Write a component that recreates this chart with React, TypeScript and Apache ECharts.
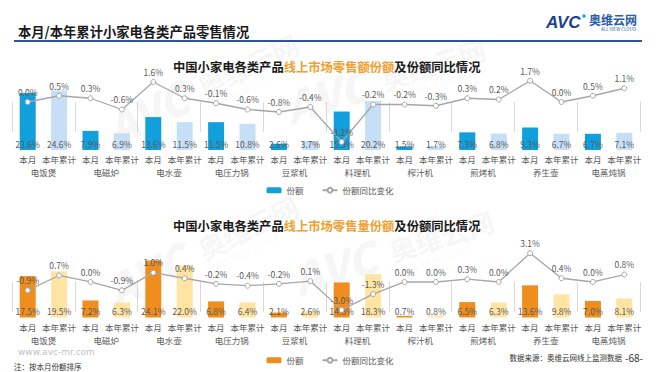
import React, { useEffect, useRef } from "react";
import * as echarts from "echarts";

const categories = ["电饭煲", "电磁炉", "电水壶", "电压力锅", "豆浆机", "料理机", "榨汁机", "煎烤机", "养生壶", "电蒸炖锅"];
const periods = ["本月", "本年累计"];
const amountShare = [23.6, 24.6, 7.9, 6.9, 13.6, 11.5, 11.5, 10.8, 2.6, 3.7, 15.9, 20.2, 1.5, 1.7, 7.3, 6.8, 9.3, 6.7, 6.7, 7.1];
const amountYoy = [0.0, 0.5, 0.3, -0.6, 1.6, 0.3, -0.1, -0.6, -0.8, -0.4, -3.2, -0.2, -0.2, -0.3, 0.3, 0.2, 1.7, 0.0, 0.5, 1.1];
const volumeShare = [17.5, 19.5, 7.2, 6.3, 24.1, 22.0, 6.8, 6.4, 2.1, 2.6, 14.8, 18.3, 0.7, 0.8, 6.5, 6.3, 13.6, 9.8, 7.0, 8.1];
const volumeYoy = [-0.9, 0.7, 0.0, -0.9, 1.0, 0.4, -0.2, -0.4, -0.2, 0.1, -3.0, -1.3, 0.0, 0.0, 0.3, 0.0, 3.1, 0.4, 0.0, 0.8];

const FONT = "'Noto Sans CJK SC', 'Noto Sans', sans-serif";
const BLUE = "#12A0DC";
const LIGHT_BLUE = "#C6DFF6";
const ORANGE = "#EF8E1E";
const LIGHT_YELLOW = "#FFE4A3";
const LINE_GRAY = "#A6A6A6";
const LABEL = "#595959";

const subLabels = categories.flatMap(() => periods);

function watermark(x: number, y: number, rot: number) {
  const fill = "rgba(120,120,120,0.07)";
  return {
    type: "group",
    x,
    y,
    rotation: rot,
    silent: true,
    z: 0,
    children: [
      { type: "text", x: 0, y: 0, style: { text: "AVC", fontSize: 44, fontWeight: 900, fontStyle: "italic", fill, fontFamily: FONT, textVerticalAlign: "bottom" } },
      { type: "text", x: 100, y: -6, style: { text: "奥维云网", fontSize: 27, fontWeight: "bold", fill, fontFamily: FONT, textVerticalAlign: "bottom" } },
      { type: "text", x: 108, y: 6, style: { text: "ALL VIEW CLOUD", fontSize: 9, fill, fontFamily: FONT, textVerticalAlign: "bottom" } },
    ],
  };
}

function xAxes(gridIndex: number) {
  return [
    {
      type: "category",
      gridIndex,
      position: "bottom",
      data: subLabels,
      axisLine: { show: false },
      axisTick: { show: false },
      axisLabel: { interval: 0, fontSize: 8.5, color: LABEL, margin: 5, fontFamily: FONT },
    },
    {
      type: "category",
      gridIndex,
      position: "bottom",
      data: categories,
      axisLine: { show: false },
      axisTick: { show: true, length: 30, lineStyle: { color: "#D9D9D9", width: 1 } },
      axisLabel: { interval: 0, fontSize: 8.5, color: LABEL, margin: 18, fontFamily: FONT },
    },
  ];
}

function barSeries(values: number[], dark: string, light: string, xi: number, yi: number) {
  return {
    name: "份额",
    type: "bar",
    xAxisIndex: xi,
    yAxisIndex: yi,
    barWidth: 16,
    itemStyle: { color: dark },
    data: values.map((v, i) => ({ value: v, itemStyle: { color: i % 2 === 0 ? dark : light } })),
    label: {
      show: true,
      position: "insideBottom",
      distance: 2,
      fontSize: 8.5,
      color: LABEL,
      fontFamily: FONT,
      formatter: (p: any) => Number(p.value).toFixed(1) + "%",
    },
  };
}

function lineSeries(values: number[], xi: number, yi: number) {
  return {
    name: "份额同比变化",
    type: "line",
    xAxisIndex: xi,
    yAxisIndex: yi,
    z: 5,
    symbol: "circle",
    symbolSize: 5,
    lineStyle: { color: LINE_GRAY, width: 1.3 },
    itemStyle: { color: "#FFFFFF", borderColor: LINE_GRAY, borderWidth: 1 },
    data: values,
    label: {
      show: true,
      position: "top",
      distance: 3,
      fontSize: 8.5,
      color: LABEL,
      fontFamily: FONT,
      formatter: (p: any) => Number(p.value).toFixed(1) + "%",
    },
  };
}

function chartTitle(top: number, highlight: string) {
  return {
    text: `{a|中国小家电各类产品}{b|${highlight}}{a|及份额同比情况}`,
    left: 168,
    top,
    textStyle: {
      rich: {
        a: { fontSize: 12.3, fontWeight: "bold", color: "#1A1A1A", fontFamily: FONT },
        b: { fontSize: 12.3, fontWeight: "bold", color: "#F0A030", fontFamily: FONT },
      },
    },
  };
}

export default function App() {
  const ref = useRef<HTMLDivElement>(null);

  useEffect(() => {
    if (!ref.current) return;
    const chart = echarts.init(ref.current, undefined, { renderer: "svg" });
    const option: any = {
      animation: false,
      backgroundColor: "#FFFFFF",
      textStyle: { fontFamily: FONT },
      title: [
        {
          text: "本月/本年累计小家电各类产品零售情况",
          left: 13,
          top: 20,
          textStyle: { fontSize: 13.3, fontWeight: "bold", color: "#1A1A1A", fontFamily: FONT },
        },
        chartTitle(56, "线上市场零售额份额"),
        chartTitle(215, "线上市场零售量份额"),
      ],
      legend: [
        {
          top: 181,
          left: "center",
          itemWidth: 15,
          itemHeight: 6,
          itemGap: 18,
          textStyle: { fontSize: 8.5, color: LABEL, fontFamily: FONT },
          data: ["份额", "份额同比变化"],
        },
        {
          top: 351,
          left: "center",
          itemWidth: 15,
          itemHeight: 6,
          itemGap: 18,
          textStyle: { fontSize: 8.5, color: LABEL, fontFamily: FONT },
          data: [{ name: "份额", itemStyle: { color: ORANGE } }, "份额同比变化"],
        },
      ],
      grid: [
        { left: 12, right: 20, top: 75, height: 75 },
        { left: 12, right: 20, top: 242, height: 75.5 },
      ],
      xAxis: [...xAxes(0), ...xAxes(1)],
      yAxis: [
        { type: "value", gridIndex: 0, min: 0, max: 31, show: false },
        { type: "value", gridIndex: 0, min: -3.84, max: 2.16, show: false },
        { type: "value", gridIndex: 1, min: 0, max: 31.9, show: false },
        { type: "value", gridIndex: 1, min: -3.82, max: 4.3, show: false },
      ],
      series: [
        barSeries(amountShare, BLUE, LIGHT_BLUE, 0, 0),
        lineSeries(amountYoy, 0, 1),
        barSeries(volumeShare, ORANGE, LIGHT_YELLOW, 2, 2),
        lineSeries(volumeYoy, 2, 3),
      ],
      graphic: [
        watermark(118, 150, 0.45),
        watermark(292, 128, 0.3),
        watermark(118, 312, 0.45),
        watermark(300, 300, 0.3),
        { type: "rect", shape: { x: 14, y: 40, width: 628, height: 2 }, style: { fill: "#2B5797" } },
        { type: "text", x: 546, y: 22, style: { text: "AVC", fontSize: 17, fontWeight: 900, fontStyle: "italic", fill: "#1C3F94", fontFamily: "'Liberation Sans', sans-serif", textVerticalAlign: "middle" } },
        { type: "circle", shape: { cx: 584, cy: 16, r: 1.8 }, style: { fill: "#1BA8E0" } },
        { type: "text", x: 589, y: 19, style: { text: "奥维云网", fontSize: 12, fontWeight: "bold", fill: "#2A5CAA", fontFamily: FONT, textVerticalAlign: "middle" } },
        { type: "text", x: 601, y: 29, style: { text: "ALL VIEW CLOUD", fontSize: 4.5, fill: "#2A5CAA", fontFamily: FONT, textVerticalAlign: "middle" } },
        { type: "text", x: 18, y: 352, style: { text: "www.avc-mr.com", fontSize: 9, fill: "#BFBFBF", fontFamily: "'DejaVu Sans', sans-serif", textVerticalAlign: "middle" } },
        { type: "text", x: 14, y: 366, style: { text: "注：按本月份额排序", fontSize: 7.5, fill: "#333333", fontFamily: FONT, textVerticalAlign: "middle" } },
        { type: "text", x: 622, y: 357, style: { text: "数据来源：奥维云网线上监测数据", fontSize: 7.5, fill: "#333333", fontFamily: FONT, textAlign: "right", textVerticalAlign: "middle" } },
        { type: "text", x: 625, y: 357, style: { text: "-68-", fontSize: 10, fill: "#333333", fontFamily: FONT, textVerticalAlign: "middle" } },
      ],
    };
    chart.setOption(option);
    return () => chart.dispose();
  }, []);

  return (
    <div
      ref={ref}
      style={{ position: "fixed", left: 0, top: 0, width: 660, height: 372, background: "#FFFFFF" }}
    />
  );
}
